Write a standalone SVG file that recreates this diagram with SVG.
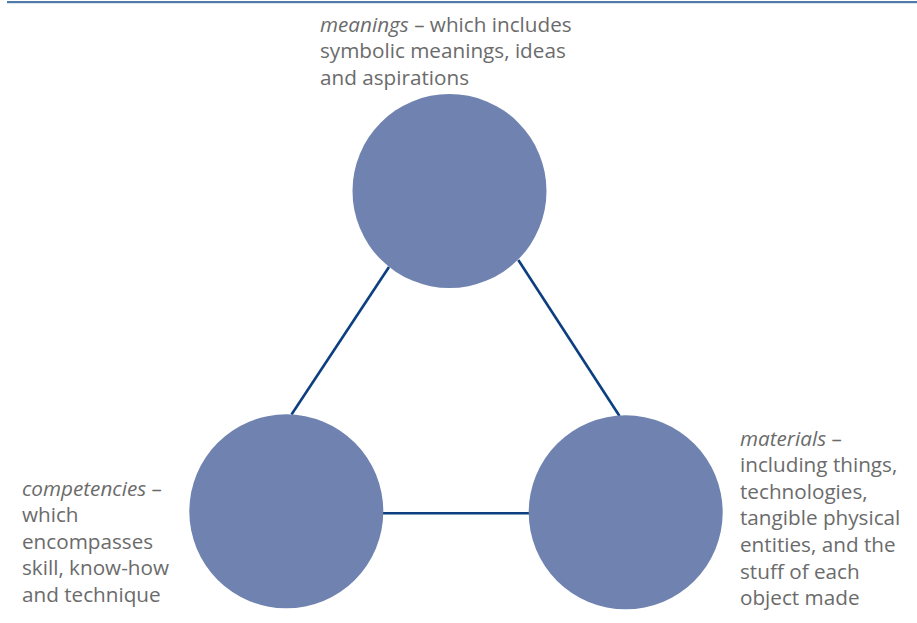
<svg xmlns="http://www.w3.org/2000/svg" width="917" height="623" viewBox="0 0 917 623">
<style>
.node{fill:#6f82b0}
.edge{stroke:#0b3f7f;stroke-width:2.6;fill:none}
.lbl{font-family:"Open Sans","Noto Sans","Liberation Sans",sans-serif;font-size:20.7px;fill:#6b6b6b}
.it{font-style:italic}
</style>
<rect x="7" y="1" width="910" height="2.2" fill="#527aa8"/>
<g id="connectors">
<line class="edge" x1="389" y1="267" x2="291.5" y2="414.5"/>
<line class="edge" x1="518.3" y1="260" x2="619.5" y2="416"/>
<line class="edge" x1="383" y1="513.3" x2="529.5" y2="513.3"/>
</g>
<g id="meanings">
<circle class="node" cx="449.5" cy="191" r="97"/>
<text class="lbl" x="320" y="31.7"><tspan class="it">meanings</tspan> – which includes</text>
<text class="lbl" x="320" y="58.3">symbolic meanings, ideas</text>
<text class="lbl" x="320" y="85">and aspirations</text>
</g>
<g id="competencies">
<circle class="node" cx="286.3" cy="511.3" r="97"/>
<text class="lbl" x="22" y="495.5"><tspan class="it">competencies</tspan> –</text>
<text class="lbl" x="22" y="522.2">which</text>
<text class="lbl" x="22" y="548.8">encompasses</text>
<text class="lbl" x="22" y="575.4">skill, know-how</text>
<text class="lbl" x="22" y="602">and technique</text>
</g>
<g id="materials">
<circle class="node" cx="625.7" cy="512.3" r="97"/>
<text class="lbl" x="740" y="445.5"><tspan class="it">materials</tspan> –</text>
<text class="lbl" x="740" y="472.2">including things,</text>
<text class="lbl" x="740" y="498.8">technologies,</text>
<text class="lbl" x="740" y="525.4">tangible physical</text>
<text class="lbl" x="740" y="552">entities, and the</text>
<text class="lbl" x="740" y="578.6">stuff of each</text>
<text class="lbl" x="740" y="605.2">object made</text>
</g>
</svg>
